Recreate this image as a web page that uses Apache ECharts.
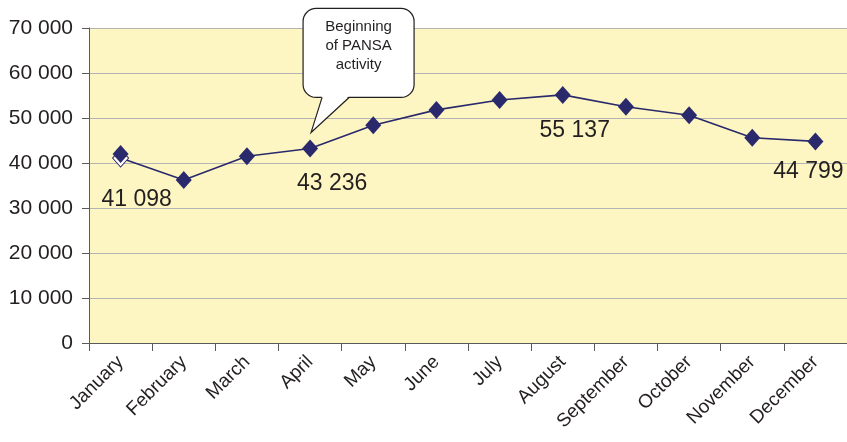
<!DOCTYPE html>
<html><head><meta charset="utf-8">
<script src="https://cdn.jsdelivr.net/npm/echarts@6/dist/echarts.min.js"></script>
<style>html,body{margin:0;padding:0;background:#fff}#c{width:847px;height:442px}</style>
</head><body><div id="c"></div>
<script>
const months = ['January','February','March','April','May','June','July','August','September','October','November','December'];
const passengers = [41098, 36200, 41500, 43236, 48400, 51800, 54000, 55137, 52500, 50600, 45600, 44799];
const janOverlay = [42000, null, null, null, null, null, null, null, null, null, null, null];
const labelled = {0: [16, 42], 3: [22, 35], 7: [12, 36], 11: [-7, 30]};
const calloutText = 'Beginning\nof PANSA\nactivity';
const yTicks = [0, 10000, 20000, 30000, 40000, 50000, 60000, 70000];

const fmt = v => String(v).replace(/\B(?=(\d{3})+(?!\d))/g, ' ');
const FONT = '"Liberation Sans", Arial, sans-serif';
const DARK = '#29296c';

const chart = echarts.init(document.getElementById('c'), null, {renderer: 'canvas'});
const lineData = passengers.map((v, i) => {
  const d = {value: v};
  if (i === 0) d.itemStyle = {color: '#ffffff', borderColor: DARK, borderWidth: 1};
  if (labelled[i]) d.label = {show: true, position: 'inside', offset: labelled[i],
    formatter: p => fmt(p.value), fontSize: 23, color: '#231f20', fontFamily: FONT};
  return d;
});
chart.setOption({
  animation: false,
  grid: {left: 89, right: -2, top: 28, bottom: 99, show: true, backgroundColor: '#fdf6c3', borderWidth: 0},
  xAxis: {
    type: 'category', data: months, boundaryGap: true,
    axisLine: {lineStyle: {color: '#5a5a5a', width: 1}},
    axisTick: {show: true, length: 8, alignWithLabel: false, lineStyle: {color: '#5a5a5a'}},
    axisLabel: {rotate: 45, interval: 0, fontSize: 19, color: '#231f20', fontFamily: FONT, margin: 16}
  },
  yAxis: {
    type: 'value', min: yTicks[0], max: yTicks[yTicks.length - 1], interval: 10000,
    axisLine: {show: true, lineStyle: {color: '#5a5a5a', width: 1}},
    axisTick: {show: true, length: 7, lineStyle: {color: '#5a5a5a'}},
    splitLine: {lineStyle: {color: '#b4b4b4', width: 1.2}},
    axisLabel: {fontSize: 21, color: '#231f20', fontFamily: FONT, margin: 16, formatter: v => fmt(v)}
  },
  series: [
    {type: 'line', data: lineData, symbol: 'diamond', symbolSize: [16, 18],
     itemStyle: {color: DARK, opacity: 1}, lineStyle: {color: DARK, width: 1.6}, z: 3},
    {type: 'scatter', data: janOverlay, symbol: 'diamond', symbolSize: [16, 18],
     itemStyle: {color: DARK, opacity: 1}, z: 4}
  ]
});

const [px, py] = chart.convertToPixel({gridIndex: 0}, [3, passengers[3]]);
const tipX = px + 1, tipY = py - 16;
const L = px - 7, R = px + 104, T = py - 140, B = py - 51;
const a = px + 12, b = px + 39;
chart.setOption({
  graphic: [
    {type: 'rect', shape: {x: L, y: T, width: R - L, height: B - T, r: 13},
     style: {fill: '#ffffff', stroke: '#231f20', lineWidth: 1.2}, z: 100},
    {type: 'polygon', shape: {points: [[a, B - 1.5], [b, B - 1.5], [tipX, tipY]]},
     style: {fill: '#ffffff', stroke: null}, z: 101},
    {type: 'polyline', shape: {points: [[a, B], [tipX, tipY], [b, B]]},
     style: {fill: null, stroke: '#231f20', lineWidth: 1.2}, z: 102},
    {type: 'text', x: (L + R) / 2, y: T + 9, z: 103,
     style: {text: calloutText, fill: '#231f20', font: '15px ' + FONT, align: 'center', verticalAlign: 'top', lineHeight: 19}}
  ]
});
</script></body></html>
